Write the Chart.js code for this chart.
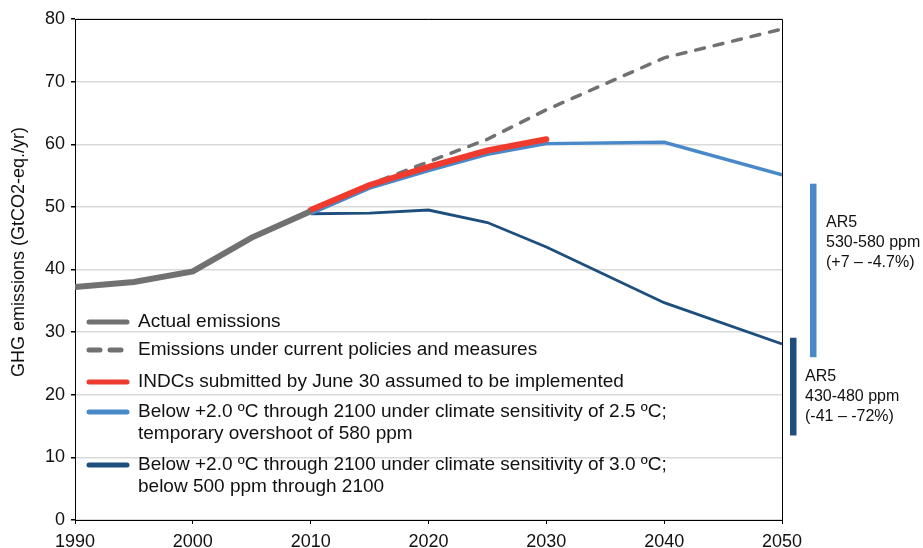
<!DOCTYPE html>
<html>
<head>
<meta charset="utf-8">
<script src="https://cdn.jsdelivr.net/npm/chart.js@4.4.0/dist/chart.umd.min.js"></script>
<style>
  html, body { margin: 0; padding: 0; background: #fff; }
</style>
</head>
<body>
<canvas id="ghgChart" width="923" height="548"></canvas>
<script>
// === data ===
const actualYears = [1990, 1995, 2000, 2005, 2010];
const actualEmissions = [37.2, 38.0, 39.7, 45.1, 49.3];

const scenarioYears = [2010, 2015, 2020, 2025, 2030, 2040, 2050];
const currentPolicies = [49.3, 53.6, 57.2, 60.8, 65.5, 73.8, 78.4];
const below2Sens25 = [48.9, 53.0, 55.8, 58.4, 60.1, 60.3, 55.1];
const below2Sens30 = [48.9, 49.0, 49.5, 47.5, 43.6, 34.7, 28.1];

const indcYears = [2010, 2015, 2020, 2025, 2030];
const indcEmissions = [49.5, 53.5, 56.4, 59.0, 60.8];

const xTicks = [1990, 2000, 2010, 2020, 2030, 2040, 2050];
const yTicks = [0, 10, 20, 30, 40, 50, 60, 70, 80];

// AR5 ranges for 2050 (GtCO2-eq./yr)
const ar5Ranges = [[26.0, 53.7], [13.5, 29.1]];
const ar5Labels = [
  ['AR5', '530-580 ppm', '(+7 \u2013 -4.7%)'],
  ['AR5', '430-480 ppm', '(-41 \u2013 -72%)']
];

const seriesLabels = [
  ['Actual emissions'],
  ['Emissions under current policies and measures'],
  ['INDCs submitted by June 30 assumed to be implemented'],
  ['Below +2.0 \u00baC through 2100 under climate sensitivity of 2.5 \u00baC;', 'temporary overshoot of 580 ppm'],
  ['Below +2.0 \u00baC through 2100 under climate sensitivity of 3.0 \u00baC;', 'below 500 ppm through 2100']
];

const FONT = '"Liberation Sans", Arial, sans-serif';
const GREY = '#717171';
const RED = '#ee3b2e';
const LIGHT_BLUE = '#4a89c9';
const DARK_BLUE = '#1d4e7e';

const toPoints = (xs, ys) => xs.map((x, i) => ({ x: x, y: ys[i] }));

// legend + frame + AR5 bars, drawn on top of the plot
const decorPlugin = {
  id: 'decor',
  afterDraw(chart) {
    const { ctx, chartArea: a, scales: { y } } = chart;
    ctx.save();

    // top and right frame
    ctx.strokeStyle = '#000';
    ctx.lineWidth = 1;
    ctx.beginPath();
    ctx.moveTo(a.left, Math.round(a.top) + 0.5);
    ctx.lineTo(Math.round(a.right) + 0.5, Math.round(a.top) + 0.5);
    ctx.lineTo(Math.round(a.right) + 0.5, a.bottom);
    ctx.stroke();

    // AR5 bars
    const barX = [a.right + 31, a.right + 11];
    const barColors = [LIGHT_BLUE, DARK_BLUE];
    const textX = [a.right + 44, a.right + 23];
    const textY = [223, 377];
    ar5Labels.forEach((lines, i) => {
      const r = ar5Ranges[i];
      const top = y.getPixelForValue(r[1]);
      const bottom = y.getPixelForValue(r[0]);
      ctx.fillStyle = barColors[i];
      ctx.fillRect(barX[i] - 3, top, 6.5, bottom - top);
      ctx.fillStyle = '#111';
      ctx.font = '16px ' + FONT;
      ctx.textAlign = 'left';
      ctx.textBaseline = 'middle';
      lines.forEach((t, j) => ctx.fillText(t, textX[i], textY[i] + j * 20));
    });

    // legend
    const rowY = [322, 350, 382, 412, 465];
    const order = [0, 4, 1, 2, 3]; // dataset index for each legend row
    ctx.font = '19px ' + FONT;
    ctx.textAlign = 'left';
    ctx.textBaseline = 'middle';
    order.forEach((dsIndex, row) => {
      const ds = chart.data.datasets[dsIndex];
      const yy = rowY[row];
      ctx.strokeStyle = ds.borderColor;
      ctx.lineWidth = 5;
      ctx.lineCap = 'round';
      ctx.beginPath();
      if (ds.borderDash) {
        ctx.moveTo(a.left + 14, yy); ctx.lineTo(a.left + 25, yy);
        ctx.moveTo(a.left + 35, yy); ctx.lineTo(a.left + 46, yy);
      } else {
        ctx.moveTo(a.left + 14, yy); ctx.lineTo(a.left + 52, yy);
      }
      ctx.stroke();
      ctx.fillStyle = '#111';
      seriesLabels[row].forEach((t, j) => ctx.fillText(t, a.left + 63, yy + j * 22));
    });

    // y-axis title
    ctx.translate(19, 252);
    ctx.rotate(-Math.PI / 2);
    ctx.font = '18px ' + FONT;
    ctx.textAlign = 'center';
    ctx.fillStyle = '#111';
    ctx.fillText('GHG emissions (GtCO2-eq./yr)', 0, 0);

    ctx.restore();
  }
};

new Chart(document.getElementById('ghgChart').getContext('2d'), {
  type: 'line',
  data: {
    datasets: [
      {
        label: seriesLabels[0][0],
        data: toPoints(actualYears, actualEmissions),
        borderColor: GREY, borderWidth: 6, order: 0
      },
      {
        label: seriesLabels[2][0],
        data: toPoints(indcYears, indcEmissions),
        borderColor: RED, borderWidth: 6, borderCapStyle: 'round', order: 1
      },
      {
        label: seriesLabels[3][0],
        data: toPoints(scenarioYears, below2Sens25),
        borderColor: LIGHT_BLUE, borderWidth: 3.5, order: 2
      },
      {
        label: seriesLabels[4][0],
        data: toPoints(scenarioYears, below2Sens30),
        borderColor: DARK_BLUE, borderWidth: 2.8, order: 3
      },
      {
        label: seriesLabels[1][0],
        data: toPoints(scenarioYears, currentPolicies),
        borderColor: GREY, borderWidth: 3.5, borderDash: [9, 10], borderCapStyle: 'round', order: 4
      }
    ]
  },
  options: {
    responsive: false,
    animation: false,
    events: [],
    elements: { point: { radius: 0 }, line: { tension: 0, fill: false } },
    layout: { padding: { left: 0, right: 141, top: 19, bottom: 0 } },
    plugins: { legend: { display: false }, tooltip: { enabled: false } },
    scales: {
      x: {
        type: 'linear',
        min: xTicks[0],
        max: xTicks[xTicks.length - 1],
        afterBuildTicks: s => { s.ticks = xTicks.map(v => ({ value: v })); },
        afterFit: s => { s.height = 28; },
        ticks: {
          callback: v => String(v),
          color: '#111',
          font: { family: FONT, size: 18 },
          padding: 7,
          maxRotation: 0
        },
        grid: { drawOnChartArea: false, drawTicks: true, tickLength: 4, tickColor: '#000' },
        border: { color: '#000', width: 1 }
      },
      y: {
        min: yTicks[0],
        max: yTicks[yTicks.length - 1],
        afterBuildTicks: s => { s.ticks = yTicks.map(v => ({ value: v })); },
        afterFit: s => { s.width = 75; },
        ticks: {
          color: '#111',
          font: { family: FONT, size: 18 },
          padding: 6
        },
        grid: { color: '#d9d9d9', tickColor: '#000', tickLength: 4, lineWidth: 1.5 },
        border: { color: '#000', width: 1 }
      }
    }
  },
  plugins: [decorPlugin]
});
</script>
</body>
</html>
